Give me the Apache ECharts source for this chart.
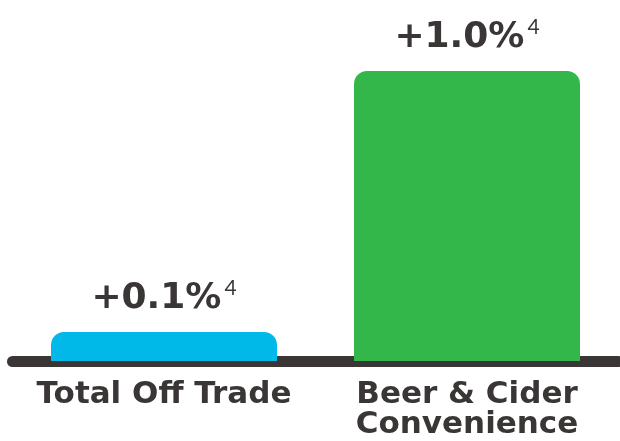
<!DOCTYPE html>
<html><head><meta charset="utf-8">
<script src="https://cdn.jsdelivr.net/npm/echarts@6/dist/echarts.min.js"></script>
<style>html,body{margin:0;padding:0;background:#fff}#c{width:620px;height:441px}</style>
</head><body><div id="c"></div>
<script>
var categories = ['Total Off Trade', 'Beer & Cider\nConvenience'];
var values = [0.1, 1.0];
var footnotes = ['4', '4'];
var colors = ['#00B9E8', '#34B74A'];

var chart = echarts.init(document.getElementById('c'));
chart.setOption({
  animation: false,
  grid: {left: 12.5, right: 1.5, top: 71, bottom: 80},
  xAxis: {
    type: 'category', data: categories,
    axisTick: {show: false},
    axisLine: {lineStyle: {color: '#3B3636', width: 11, cap: 'round'}},
    axisLabel: {color: '#3B3636', fontFamily: 'DejaVu Sans', fontWeight: 'bold', fontSize: 31, lineHeight: 30, margin: 19, interval: 0}
  },
  yAxis: {type: 'value', min: 0, max: 1.0, show: false, splitLine: {show: false}},
  series: [{
    type: 'bar', barWidth: 226, z: 1,
    data: values.map(function (v, i) {
      return {value: v, itemStyle: {color: colors[i], borderRadius: [13, 13, 0, 0]}};
    }),
    label: {
      show: true, position: 'top', distance: 12,
      formatter: function (p) {
        return '{v|+' + p.value.toFixed(1) + '%}{s|' + footnotes[p.dataIndex] + '}';
      },
      rich: {
        v: {fontFamily: 'DejaVu Sans', fontWeight: 'bold', fontSize: 36, color: '#3B3636'},
        s: {fontFamily: 'Lato', fontWeight: 'normal', fontSize: 21, color: '#3B3636', padding: [0, 0, 21, 3]}
      }
    }
  }]
});
</script></body></html>
